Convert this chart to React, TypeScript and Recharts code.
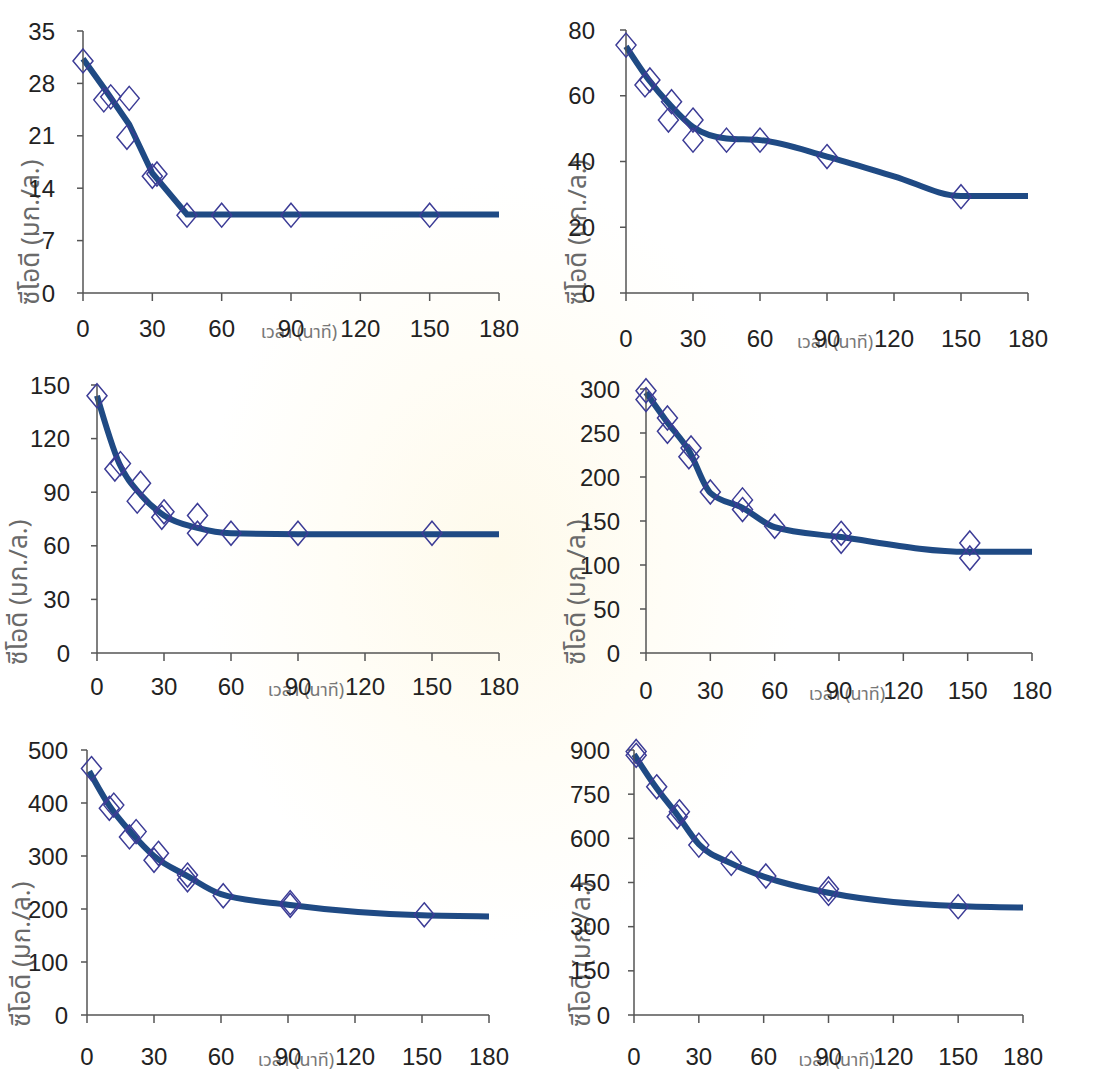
import React from "react";
import { ComposedChart, Line, Scatter, XAxis, YAxis } from "recharts";

// shared x axis (เวลา, นาที)
const timeTicks = [0, 30, 60, 90, 120, 150, 180];

// panel 1
const codTicks1 = [0, 7, 14, 21, 28, 35];
const sampleTime1 = [0, 9, 12, 20, 19, 30, 32, 45, 60, 90, 150];
const sampleCod1 = [31, 25.8, 26.2, 26, 20.8, 15.6, 15.9, 10.4, 10.4, 10.4, 10.4];
const fitTime1 = [0, 10, 20, 30, 45, 60, 90, 150, 180];
const fitCod1 = [31.3, 27, 22.5, 16, 10.5, 10.5, 10.5, 10.5, 10.5];

// panel 2
const codTicks2 = [0, 20, 40, 60, 80];
const sampleTime2 = [0, 8.5, 10.7, 20.4, 19, 30, 30, 45, 60, 90, 150];
const sampleCod2 = [75.4, 63.3, 64.8, 58.2, 52.6, 52.6, 46.5, 46.5, 46.5, 41.5, 29.3];
const fitTime2 = [0, 10, 20, 30, 45, 60, 90, 120, 150, 180];
const fitCod2 = [75, 65, 57, 50.5, 47, 46.5, 41.5, 35.5, 29.5, 29.5];

// panel 3
const codTicks3 = [0, 30, 60, 90, 120, 150];
const sampleTime3 = [0, 8, 10.5, 19.5, 18, 29, 30, 45, 45, 60, 90, 150];
const sampleCod3 = [144, 103, 106, 95, 85, 76, 79, 77, 67, 67, 67, 67];
const fitTime3 = [0, 10, 20, 30, 45, 60, 90, 150, 180];
const fitCod3 = [144, 106, 88, 77, 70, 67, 66.5, 66.5, 66.5];

// panel 4
const codTicks4 = [0, 50, 100, 150, 200, 250, 300];
const sampleTime4 = [0, 0, 10, 10, 21, 20, 30, 45, 45, 60, 91, 91, 151, 151];
const sampleCod4 = [298, 288, 267, 252, 233, 223, 183, 174, 163, 144, 136, 127, 125, 108];
const fitTime4 = [0, 10, 20, 30, 45, 60, 90, 150, 180];
const fitCod4 = [296, 262, 230, 182, 165, 143, 132, 115, 115];

// panel 5
const codTicks5 = [0, 100, 200, 300, 400, 500];
const sampleTime5 = [2, 10, 12, 19, 22, 30, 32, 45, 45, 61, 91, 91, 151];
const sampleCod5 = [465, 390, 396, 336, 346, 292, 305, 264, 255, 225, 207, 212, 189];
const fitTime5 = [1, 10, 20, 30, 45, 60, 90, 150, 180];
const fitCod5 = [460, 395, 343, 300, 262, 228, 208, 188, 186];

// panel 6
const codTicks6 = [0, 150, 300, 450, 600, 750, 900];
const sampleTime6 = [1, 1, 10.5, 20, 21, 30, 45, 61, 90, 90, 150];
const sampleCod6 = [895, 882, 775, 673, 690, 577, 515, 472, 413, 428, 368];
const fitTime6 = [0, 10, 20, 30, 45, 60, 90, 150, 180];
const fitCod6 = [885, 775, 680, 580, 515, 470, 415, 370, 365];

const Y_LABEL = "ซีโอดี (มก./ล.)";
const X_LABEL = "เวลา (นาที)";

const zip = (t: number[], v: number[]) => t.map((x, i) => ({ t: x, cod: v[i] }));

const panels = [
  { ticks: codTicks1, samples: zip(sampleTime1, sampleCod1), fit: zip(fitTime1, fitCod1), curve: "linear" },
  { ticks: codTicks2, samples: zip(sampleTime2, sampleCod2), fit: zip(fitTime2, fitCod2), curve: "monotone" },
  { ticks: codTicks3, samples: zip(sampleTime3, sampleCod3), fit: zip(fitTime3, fitCod3), curve: "monotone" },
  { ticks: codTicks4, samples: zip(sampleTime4, sampleCod4), fit: zip(fitTime4, fitCod4), curve: "monotone" },
  { ticks: codTicks5, samples: zip(sampleTime5, sampleCod5), fit: zip(fitTime5, fitCod5), curve: "monotone" },
  { ticks: codTicks6, samples: zip(sampleTime6, sampleCod6), fit: zip(fitTime6, fitCod6), curve: "monotone" },
];

// plot boxes on the page + label gaps
const boxes = [
  { left: 83, top: 31, right: 499, bottom: 293, yGap: 28, xGap: 27, yLabelDx: -51 },
  { left: 626, top: 30, right: 1028, bottom: 293, yGap: 31, xGap: 37, yLabelDx: -47 },
  { left: 97, top: 385, right: 499, bottom: 653, yGap: 27, xGap: 25, yLabelDx: -77 },
  { left: 646, top: 389, right: 1032, bottom: 653, yGap: 26, xGap: 29, yLabelDx: -68 },
  { left: 87, top: 750, right: 489, bottom: 1015, yGap: 19, xGap: 33, yLabelDx: -64 },
  { left: 634, top: 750, right: 1023, bottom: 1015, yGap: 24, xGap: 33, yLabelDx: -51 },
];

const PAD_L = 100;
const PAD_T = 20;
const PAD_R = 40;
const PAD_B = 70;

const LINE_COLOR = "#1f4a84";
const MARKER_COLOR = "#3c3c96";
const AXIS_COLOR = "#555";
const tickFont = { fontSize: 24, fill: "#222", fontFamily: "'Liberation Sans', Arial, sans-serif" };
const thaiFont = "'Noto Sans Thai', Loma, Garuda, 'Tlwg Typist', 'DejaVu Sans', sans-serif";

const Diamond = (props: any) => {
  const { cx, cy } = props;
  if (cx == null || cy == null) return null;
  return (
    <path
      d={`M${cx},${cy - 12}L${cx + 10},${cy}L${cx},${cy + 12}L${cx - 10},${cy}Z`}
      fill="none"
      stroke={MARKER_COLOR}
      strokeWidth={1.5}
    />
  );
};

function Panel({ panel, box }: { panel: (typeof panels)[number]; box: (typeof boxes)[number] }) {
  const w = box.right - box.left + PAD_L + PAD_R;
  const h = box.bottom - box.top + PAD_T + PAD_B;
  const yMax = panel.ticks[panel.ticks.length - 1];

  const yLabel = (p: any) => {
    const vb = p.viewBox || {};
    const x = vb.x + vb.width + box.yLabelDx;
    const y = vb.y + vb.height + 12;
    return (
      <text
        x={x}
        y={y}
        transform={`rotate(-90 ${x} ${y})`}
        textAnchor="start"
        dominantBaseline="middle"
        fontSize={26}
        fill="#6a6a6a"
        fontFamily={thaiFont}
      >
        {Y_LABEL}
      </text>
    );
  };

  const xLabel = (p: any) => {
    const vb = p.viewBox || {};
    const x = vb.x + vb.width / 2 + 8;
    const y = vb.y + box.xGap + 18;
    return (
      <text x={x} y={y} textAnchor="middle" fontSize={18} fill="#777" fontFamily={thaiFont}>
        {X_LABEL}
      </text>
    );
  };

  return (
    <div style={{ position: "absolute", left: box.left - PAD_L, top: box.top - PAD_T }}>
      <ComposedChart width={w} height={h} margin={{ top: PAD_T, right: PAD_R, bottom: 0, left: 0 }}>
        <XAxis
          type="number"
          dataKey="t"
          domain={[0, 180]}
          ticks={timeTicks}
          interval={0}
          height={PAD_B}
          stroke={AXIS_COLOR}
          strokeWidth={1.5}
          tickSize={8}
          tickMargin={box.xGap - 8}
          tick={tickFont}
          label={{ content: xLabel }}
        />
        <YAxis
          type="number"
          dataKey="cod"
          domain={[0, yMax]}
          ticks={panel.ticks}
          interval={0}
          width={PAD_L}
          stroke={AXIS_COLOR}
          strokeWidth={1.5}
          tickSize={6}
          tickMargin={box.yGap - 6}
          tick={tickFont}
          label={{ content: yLabel }}
        />
        <Scatter data={panel.samples} dataKey="cod" shape={Diamond} isAnimationActive={false} />
        <Line
          data={panel.fit}
          dataKey="cod"
          type={panel.curve as any}
          stroke={LINE_COLOR}
          strokeWidth={6}
          dot={false}
          activeDot={false}
          isAnimationActive={false}
        />
      </ComposedChart>
    </div>
  );
}

export default function App() {
  return (
    <div
      style={{
        position: "absolute",
        left: 0,
        top: 0,
        width: 1097,
        height: 1080,
        overflow: "hidden",
        background: "radial-gradient(ellipse 300px 380px at 500px 560px, #fefaeb 0%, #fffdf6 55%, #ffffff 100%)",
      }}
    >
      {panels.map((panel, i) => (
        <Panel key={i} panel={panel} box={boxes[i]} />
      ))}
    </div>
  );
}
